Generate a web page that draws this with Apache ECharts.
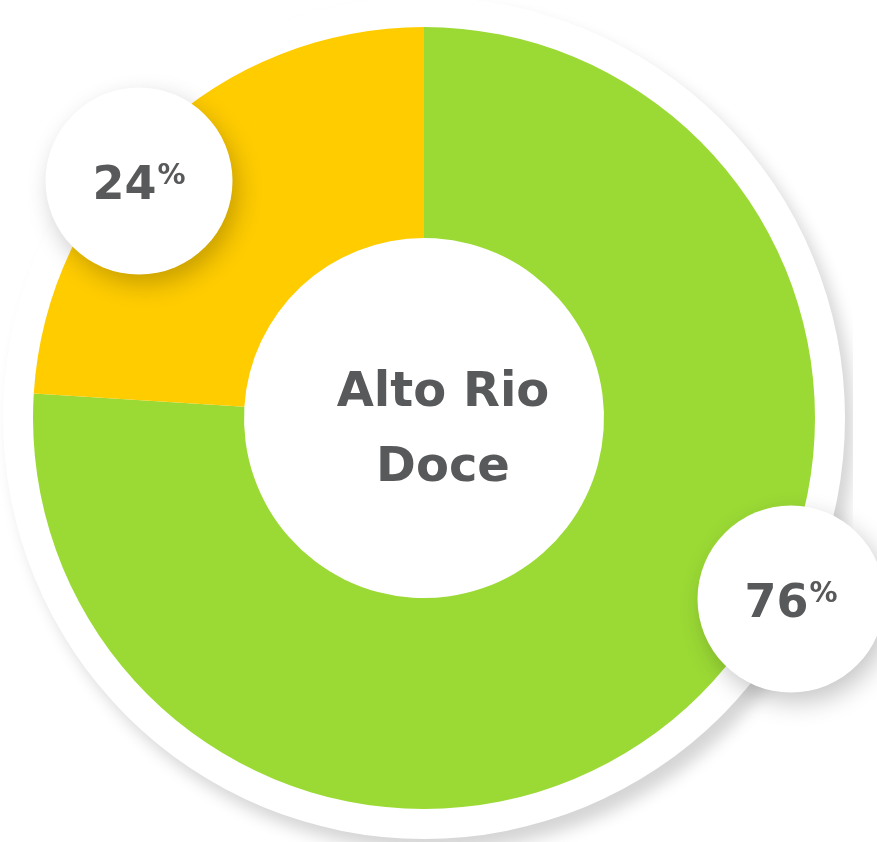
<!DOCTYPE html>
<html>
<head>
<meta charset="utf-8">
<script src="https://cdn.jsdelivr.net/npm/echarts@6/dist/echarts.min.js"></script>
<style>
  html, body { margin: 0; padding: 0; background: #ffffff; }
  #chart { width: 877px; height: 842px; }
</style>
</head>
<body>
<div id="chart"></div>
<script>
// Share of the region split in two parts
const categories = ['Parcela 1', 'Parcela 2'];
const values = [76, 24];
const sliceColors = ['#9bda35', '#ffcc00'];
const centerTitle = 'Alto Rio\nDoce';

// Layout constants
const CENTER = [424, 418];
const RING = [180, 391];
const BACKDROP_R = 421;
const LABEL_POS = [[791, 599], [139, 181]];
const LABEL_D = 187;
const TEXT_GREY = '#58595b';
const FONT = '"DejaVu Sans", sans-serif';

const chart = echarts.init(document.getElementById('chart'), null, { renderer: 'canvas' });

chart.setOption({
  backgroundColor: '#ffffff',
  animation: false,
  title: {
    text: centerTitle,
    left: 443,
    top: 356,
    textAlign: 'center',
    padding: 0,
    textStyle: {
      fontFamily: FONT,
      fontWeight: 'bold',
      fontSize: 48,
      lineHeight: 75,
      color: TEXT_GREY
    }
  },
  graphic: [{
    // trims the backdrop shadow on the right side
    type: 'rect',
    z: 1,
    silent: true,
    shape: { x: 853, y: 0, width: 40, height: 842 },
    style: { fill: '#ffffff' }
  }],
  series: [
    {
      // white disc behind the donut, with a soft shadow
      type: 'pie',
      z: 0,
      silent: true,
      center: CENTER,
      radius: [0, BACKDROP_R],
      label: { show: false },
      labelLine: { show: false },
      itemStyle: {
        color: '#ffffff',
        shadowBlur: 16,
        shadowColor: 'rgba(0,0,0,0.17)',
        shadowOffsetX: 9,
        shadowOffsetY: 12
      },
      data: [{ value: 1, name: 'fundo' }]
    },
    {
      type: 'pie',
      z: 2,
      silent: true,
      center: CENTER,
      radius: RING,
      startAngle: 90,
      clockwise: true,
      labelLine: { show: false },
      label: {
        show: true,
        position: 'outside',
        formatter: '{v|{c}}{p|%}',
        backgroundColor: '#ffffff',
        width: LABEL_D,
        padding: [(LABEL_D - 50) / 2 + 6, 0, (LABEL_D - 50) / 2 - 6, 0],
        borderRadius: LABEL_D / 2,
        shadowBlur: 24,
        shadowColor: 'rgba(0,0,0,0.22)',
        shadowOffsetX: 6,
        shadowOffsetY: 10,
        align: 'center',
        rich: {
          v: {
            fontFamily: FONT,
            fontWeight: 'bold',
            fontSize: 46,
            lineHeight: 50,
            color: TEXT_GREY
          },
          p: {
            fontFamily: FONT,
            fontWeight: 'bold',
            fontSize: 28,
            lineHeight: 50,
            padding: [0, 0, 20, 1],
            color: TEXT_GREY
          }
        }
      },
      labelLayout: function (params) {
        const p = LABEL_POS[params.dataIndex];
        return { x: p[0], y: p[1], align: 'center', verticalAlign: 'middle' };
      },
      data: categories.map(function (name, i) {
        return { name: name, value: values[i], itemStyle: { color: sliceColors[i] } };
      })
    }
  ]
});
</script>
</body>
</html>
